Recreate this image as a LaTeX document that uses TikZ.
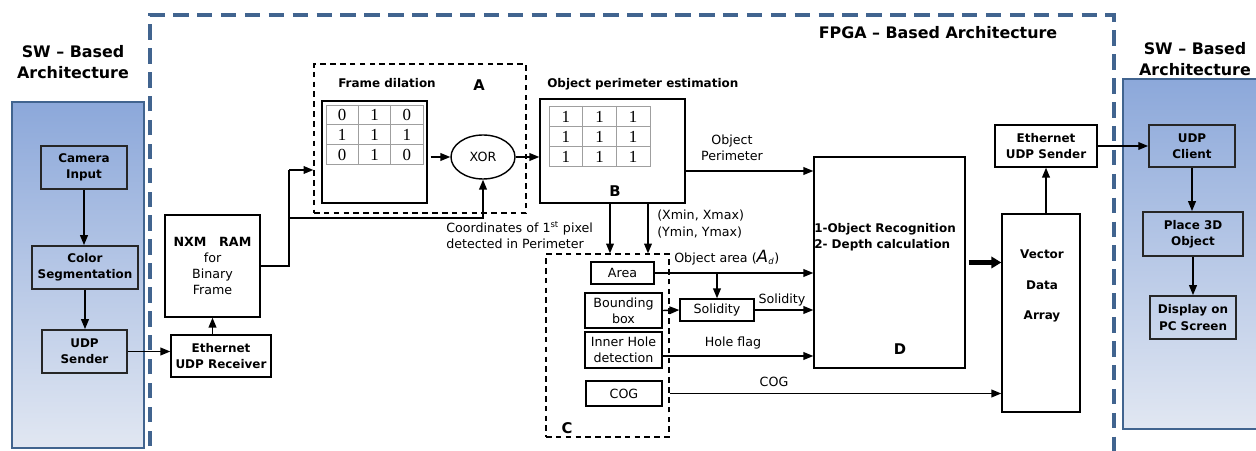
\documentclass[tikz,border=0pt]{standalone}
\usepackage{fontspec}
\setmainfont{DejaVu Sans}
\newfontfamily\digitfont{Liberation Serif}
\usetikzlibrary{arrows.meta, shapes.geometric, calc}

\definecolor{panelblue}{HTML}{8CA8DA}
\definecolor{panelpale}{HTML}{E1E7F2}
\definecolor{steel}{HTML}{41648F}

\tikzset{
  dims/.style 2 args = {minimum width = #1*0.025cm, minimum height = #2*0.025cm},
  block/.style = {draw, line width = 1pt, inner sep = 0pt, align = center,
    font = \fontsize{8.5}{11.5}\selectfont\bfseries},
  swblock/.style = {block, draw = black!85, line width = 1.3pt},
  plain/.style = {block, font = \fontsize{9}{11.5}\selectfont},
  group/.style = {draw, line width = 0.9pt, dash pattern = on 4pt off 3pt, inner sep = 0pt},
  head/.style = {inner sep = 0pt, font = \fontsize{8.5}{11.5}\selectfont\bfseries},
  lbl/.style = {inner sep = 0pt, align = left, font = \fontsize{9}{11.5}\selectfont},
  title/.style = {inner sep = 0pt, align = center, font = \fontsize{11.3}{14.5}\selectfont\bfseries},
  tag/.style = {inner sep = 0pt, font = \fontsize{10.5}{12}\selectfont\bfseries},
  digit/.style = {inner sep = 0pt, font = \digitfont\fontsize{12}{12}\selectfont},
  cell/.style = {draw = gray!75, line width = 0.6pt},
  link/.style = {line width = 1pt, -{Triangle[length = 7pt, width = 5.5pt]}},
  wire/.style = {line width = 1pt},
  fat/.style = {line width = 3pt, -{Triangle[length = 7pt, width = 8pt]}},
}

\begin{document}
\begin{tikzpicture}[x = 0.025cm, y = -0.025cm]
  \useasboundingbox (0, 0) rectangle (1256, 451);
  \clip (0, 0) rectangle (1256, 451);

  % software side panels
  \shade[top color = panelblue, bottom color = panelpale] (12, 102) rectangle (144, 448);
  \draw[steel, line width = 2pt] (12, 102) rectangle (144, 448);
  \shade[top color = panelblue, bottom color = panelpale] (1123, 79) rectangle (1270, 429);
  \draw[steel, line width = 2pt] (1123, 79) rectangle (1270, 429);

  % FPGA boundary
  \draw[steel, line width = 2.2pt, dash pattern = on 11pt off 6pt]
    (150, 470) -- (150, 15) -- (1114, 15) -- (1114, 470);

  \node[title] (swl) at (73, 62) {SW – Based\\Architecture};
  \node[title] (swr) at (1195, 59) {SW – Based\\Architecture};
  \node[title] (fpga) at (938, 33) {FPGA – Based Architecture};

  \node[swblock, dims = {86}{43}] (cam) at (84, 167.5) {Camera\\Input};
  \node[swblock, dims = {106}{43}] (seg) at (85, 267.5) {Color\\Segmentation};
  \node[swblock, dims = {85}{43}] (usend) at (84.5, 351.5) {UDP\\Sender};

  \node[block, dims = {100}{42}] (erecv) at (221, 356) {Ethernet\\UDP Receiver};
  \node[plain, dims = {95}{102}] (ram) at (212.5, 266)
    {\textbf{NXM\quad RAM}\\for\\Binary\\Frame};

  % dilation stage
  \node[block, dims = {105}{102}] (dil) at (374.5, 152) {};
  \draw[cell] (326, 105) rectangle (423, 164);
  \foreach \k in {1, 2} {
    \draw[cell] (326 + 32.33*\k, 105) -- (326 + 32.33*\k, 164);
    \draw[cell] (326, 105 + 19.67*\k) -- (423, 105 + 19.67*\k);
  }
  \foreach \c/\r/\v in {0/0/0, 1/0/1, 2/0/0, 0/1/1, 1/1/1, 2/1/1, 0/2/0, 1/2/1, 2/2/0}
    \node[digit] (dil-\c-\r) at (342.2 + 32.33*\c, 115.3 + 19.67*\r) {\v};
  \node[group, dims = {212}{149}] (grpA) at (420, 138.5) {};
  \node[head] (dilt) at (387, 83) {Frame dilation};
  \node[tag] (tagA) at (479, 85) {A};
  \node[plain, ellipse, dims = {64}{44}] (xor) at (483, 157) {XOR};

  % perimeter stage
  \node[block, dims = {145}{104}] (per) at (612.5, 151) {};
  \draw[cell] (549, 106) rectangle (650, 166);
  \foreach \k in {1, 2} {
    \draw[cell] (549 + 33.67*\k, 106) -- (549 + 33.67*\k, 166);
    \draw[cell] (549, 106 + 20*\k) -- (650, 106 + 20*\k);
  }
  \foreach \c in {0, 1, 2}
    \foreach \r in {0, 1, 2}
      \node[digit] (per-\c-\r) at (565.8 + 33.67*\c, 116.5 + 20*\r) {1};
  \node[head, anchor = west] (pert) at (547, 84) {Object perimeter estimation};
  \node[tag] (tagB) at (615, 191) {B};

  % shape features
  \node[group, dims = {123}{183}] (grpC) at (607.5, 345.5) {};
  \node[tag] (tagC) at (567, 428) {C};
  \node[plain, dims = {63}{22}] (area) at (622.5, 273) {Area};
  \node[plain, dims = {77}{35}] (bbox) at (623.5, 310.5) {Bounding\\box};
  \node[plain, dims = {77}{36}] (hole) at (623.5, 350) {Inner Hole\\detection};
  \node[plain, dims = {76}{25}] (cog) at (624, 393.5) {COG};
  \node[plain, dims = {74}{22}] (sol) at (717, 310) {Solidity};

  \node[block, dims = {151}{211}] (rec) at (889.5, 262.5) {};
  \node[head, anchor = west, align = left] (rect) at (814, 237)
    {1-Object Recognition\\2- Depth calculation};
  \node[tag] (tagD) at (900, 349) {D};

  \node[block, dims = {78}{198}] (vec) at (1041, 313) {};
  \node[head, align = center] (vect) at (1042, 286) {Vector\\[10pt]Data\\[10pt]Array};
  \node[block, dims = {102}{42}] (esend) at (1046, 146) {Ethernet\\UDP Sender};

  \node[swblock, dims = {86}{42}] (client) at (1192, 146) {UDP\\Client};
  \node[swblock, dims = {100}{44}] (place) at (1193, 234) {Place 3D\\Object};
  \node[swblock, dims = {86}{43}] (disp) at (1193, 317.5) {Display on\\PC Screen};

  % connectors
  \draw[link] (cam.south) -- (cam.south |- seg.north);
  \draw[link] (seg.south) -- (seg.south |- usend.north);
  \draw[link] (usend.east) -- (usend.east -| erecv.west);
  \draw[link] (ram.south |- erecv.north) -- (ram.south);

  \coordinate (up) at (289, 170);
  \coordinate (tap) at (289, 218);
  \draw[wire] (ram.east) -- (ram.east -| up) -- (up);
  \draw[link] (up) -- (up -| grpA.west);
  \draw[link] (tap) -| (xor.south);
  \draw[link, shorten <= 2pt] (xor.west -| dil.east) -- (xor.west);
  \draw[link] (xor.east) -- (xor.east -| per.west);

  \coordinate (pout) at ($(per.east) + (0, 20)$);
  \coordinate (bx1) at ($(per.south) + (-2.5, 0)$);
  \coordinate (bx2) at ($(per.south) + (35.5, 0)$);
  \coordinate (hout) at ($(hole.east) + (0, 6)$);
  \draw[link] (pout) -- (pout -| rec.west);
  \draw[link] (bx1) -- (bx1 |- grpC.north);
  \draw[link] (bx2) -- (bx2 |- grpC.north);
  \draw[link] (area.east) -- (area.east -| rec.west);
  \draw[link] (area.east -| sol.north) -- (sol.north);
  \draw[link] (bbox.east) -- (sol.west);
  \draw[link] (sol.east) -- (sol.east -| rec.west);
  \draw[link] (hout) -- (hout -| rec.west);
  \draw[link] (cog.east -| grpC.east) -- (cog.east -| vec.west);
  \draw[fat, shorten <= 2pt] (rec.east) -- (rec.east -| vec.west);
  \draw[link] (vec.north -| esend.south) -- (esend.south);
  \draw[link] (esend.east) -- (client.west);
  \draw[link] (client.south) -- (client.south |- place.north);
  \draw[link] (place.south) -- (place.south |- disp.north);

  \node[lbl, align = center] (perlbl) at (732, 148) {Object\\Perimeter};
  \node[lbl, anchor = west] (xylbl) at (657, 224) {(Xmin, Xmax)\\(Ymin, Ymax)};
  \node[lbl, anchor = west] (coordlbl) at (446, 235)
    {Coordinates of 1\textsuperscript{st} pixel\\detected in Perimeter};
  \node[lbl, anchor = west] (arealbl) at (674, 258)
    {Object area ({\fontsize{12}{12}\selectfont\itshape A}\textsubscript{\itshape d})};
  \node[lbl] (sollbl) at (782, 300) {Solidity};
  \node[lbl] (holelbl) at (733, 343) {Hole flag};
  \node[lbl] (coglbl) at (774, 382) {COG};
\end{tikzpicture}
\end{document}
